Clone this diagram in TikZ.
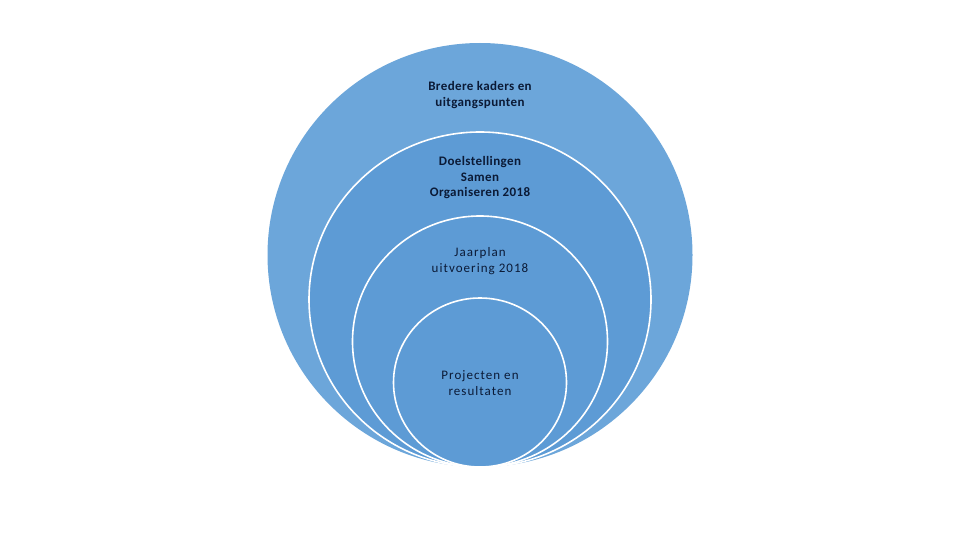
\documentclass[tikz,border=0pt]{standalone}
\usepackage{fontspec}
\setmainfont{Carlito}
\newfontfamily\regfont[LetterSpace=8]{Carlito}
\newfontfamily\boldfont[LetterSpace=3]{Carlito Bold}
\begin{document}
\begin{tikzpicture}[x=1pt,y=-1pt,
  ring/.style={draw=white,line width=1.6pt},
  lbl/.style={align=center,text=labeltext,font=\fontsize{13}{16}\regfont,inner sep=0pt},
  lblb/.style={lbl,font=\fontsize{13}{15.5}\boldfont}]
\definecolor{outerfill}{HTML}{6CA6DA}
\definecolor{innerfill}{HTML}{5D9BD5}
\definecolor{labeltext}{HTML}{0B1A36}
\useasboundingbox (0,0) rectangle (960,540);
\fill[white] (0,0) rectangle (960,540);
\fill[outerfill] (480,255) ellipse [x radius=212.5, y radius=212];
\filldraw[innerfill,ring] (480,299.5) ellipse [x radius=171, y radius=167.5];
\filldraw[innerfill,ring] (480,341.5) ellipse [x radius=127.5, y radius=125.5];
\filldraw[innerfill,ring] (480,382.5) ellipse [x radius=86.5, y radius=84.5];
\node[lblb] (t1) at (480,95) {Bredere kaders en\\uitgangspunten};
\node[lblb] (t2) at (480,178) {Doelstellingen\\Samen\\Organiseren 2018};
\node[lbl] (t3) at (480,261.5) {Jaarplan\\uitvoering 2018};
\node[lbl] (t4) at (480,383) {Projecten en\\resultaten};
\end{tikzpicture}
\end{document}
